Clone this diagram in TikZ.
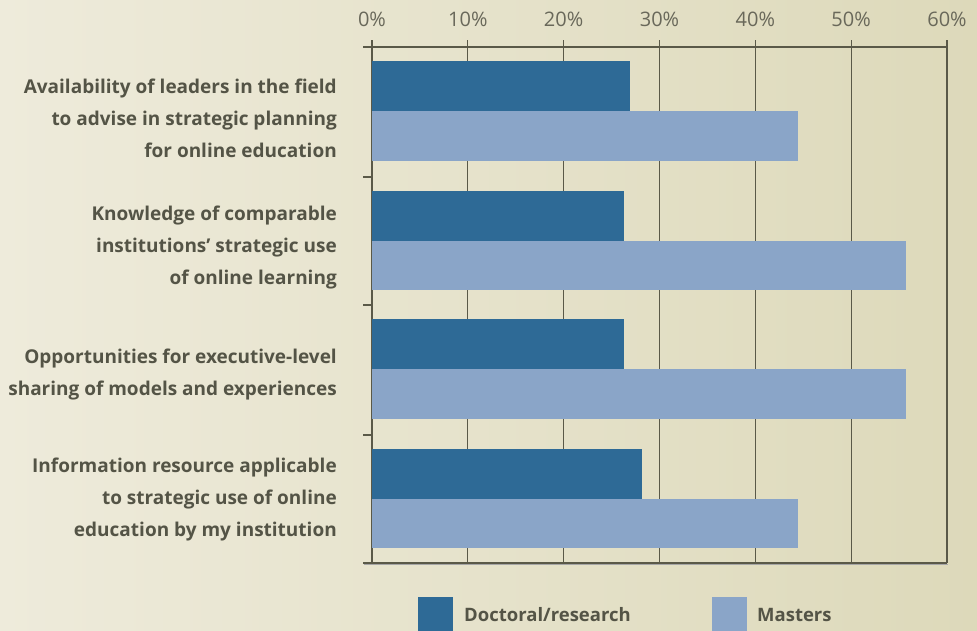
\documentclass[tikz,border=0pt]{standalone}
\usepackage{fontspec}
\setmainfont{Open Sans}
\definecolor{bgL}{RGB}{238,235,219}
\definecolor{bgR}{RGB}{221,217,186}
\definecolor{axisc}{RGB}{90,89,72}
\definecolor{txtc}{RGB}{84,84,70}
\definecolor{tickc}{RGB}{105,104,90}
\definecolor{darkbar}{RGB}{46,106,150}
\definecolor{lightbar}{RGB}{138,165,200}
\tikzset{
  gridln/.style={draw=axisc, line width=1.3pt},
  darkb/.style={fill=darkbar, draw=none},
  lightb/.style={fill=lightbar, draw=none},
  catlabel/.style={anchor=east, align=right, text=txtc, inner sep=0pt,
    font=\fontsize{19}{32}\selectfont\bfseries},
  ticklabel/.style={anchor=center, text=tickc, inner sep=0pt,
    font=\fontsize{20}{22}\selectfont},
  legtext/.style={anchor=base west, text=txtc, inner sep=0pt,
    font=\fontsize{18.5}{20}\selectfont\bfseries}
}
\begin{document}
\begin{tikzpicture}[x=1pt,y=-1pt]
\useasboundingbox (0,0) rectangle (977,630);
\shade[left color=bgL, right color=bgR] (0,0) rectangle (977,630);
% grid
\foreach \i in {0,...,6} {
  \draw[gridln] ({372+95.83*\i},40) -- ({372+95.83*\i},563);
}
\draw[gridln] (363,47) -- (947,47);
\foreach \yy in {47,177,305,435} \draw[gridln] (363,\yy) -- (372,\yy);
% bars
\fill[darkb] (372,61) rectangle (630,111);
\fill[lightb] (372,111) rectangle (798,161);
\fill[darkb] (372,191) rectangle (624,241);
\fill[lightb] (372,241) rectangle (906,290);
\fill[darkb] (372,319) rectangle (624,369);
\fill[lightb] (372,369) rectangle (906,419);
\fill[darkb] (372,449) rectangle (642,499);
\fill[lightb] (372,499) rectangle (798,548);
% bottom axis
\draw[draw=gray!70, line width=1.3pt] (364,564.5) -- (948,564.5);
\draw[gridln] (363,563) -- (947,563);
% tick labels
\foreach \i/\t in {0/0\%,1/10\%,2/20\%,3/30\%,4/40\%,5/50\%,6/60\%} {
  \node[ticklabel] (t\i) at ({372+95.83*\i},19) {\t};
}
% category labels
\node[catlabel] (c1) at (337,118) {Availability of leaders in the field\\to advise in strategic planning\\for online education};
\node[catlabel] (c2) at (337,248) {Knowledge of comparable\\institutions’ strategic use\\of online learning};
\node[catlabel] (c3) at (337,375) {Opportunities for executive-level\\sharing of models and experiences};
\node[catlabel] (c4) at (337,500) {Information resource applicable\\to strategic use of online\\education by my institution};
% legend
\fill[darkb] (418,597) rectangle (453,631);
\node[legtext] (l1) at (464,621) {Doctoral/research};
\fill[lightb] (712,597) rectangle (747,631);
\node[legtext] (l2) at (757,621) {Masters};
\end{tikzpicture}
\end{document}
